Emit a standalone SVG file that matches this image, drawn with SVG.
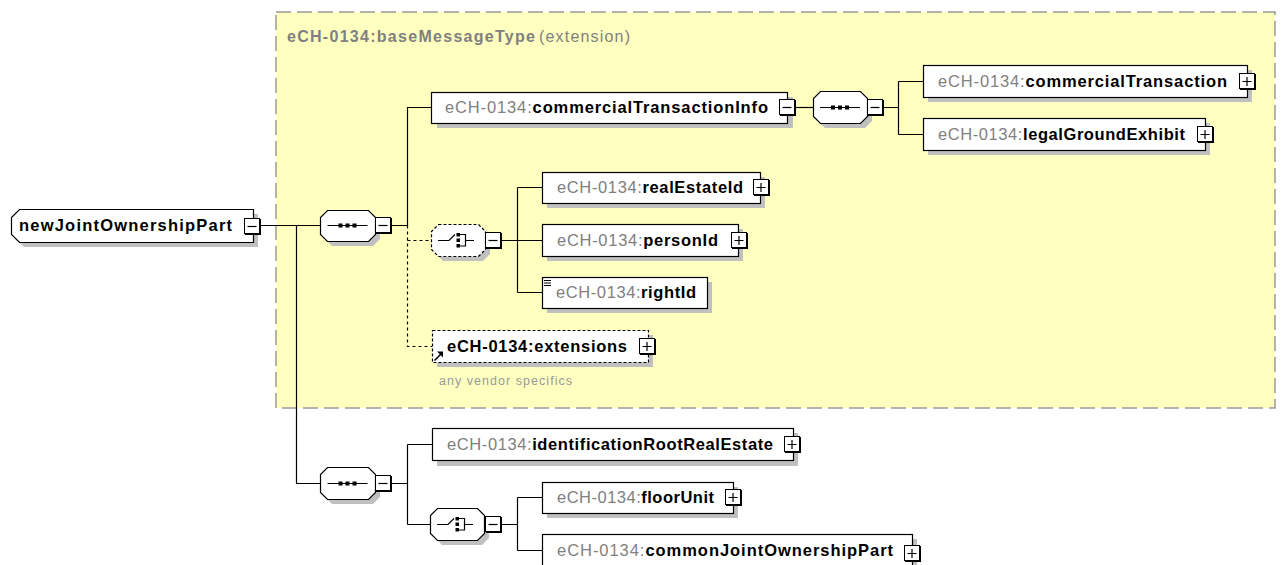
<svg xmlns="http://www.w3.org/2000/svg" xmlns:xlink="http://www.w3.org/1999/xlink" width="1281" height="565" viewBox="0 0 1281 565">
<style>
.box{fill:#fff;stroke:#000;stroke-width:1.2}
.dbox{fill:#fff;stroke:#000;stroke-width:1.2;stroke-dasharray:3 2}
.sh{fill:#c0c0c0}
.lbl{font-family:"Liberation Sans",Arial,sans-serif;font-size:16.5px;font-weight:bold;fill:#000}
.pre{font-weight:normal;fill:#808080}
.ln{fill:none;stroke:#000;stroke-width:1.2}
.dl{fill:none;stroke:#000;stroke-width:1.2;stroke-dasharray:3 3}
.ttl{font-family:"Liberation Sans",Arial,sans-serif;font-size:16px;fill:#808080}
.note{font-family:"Liberation Sans",Arial,sans-serif;font-size:12.5px;fill:#999}
</style>
<defs>
<g id="bm"><rect x="1" y="1" width="16" height="16" fill="#000"/><rect x="0.5" y="0.5" width="15" height="15" fill="#fff" stroke="#000"/><path d="M3.5 8.5H12.5" stroke="#000" stroke-width="1.2"/></g>
<g id="bp"><rect x="1" y="1" width="16" height="16" fill="#000"/><rect x="0.5" y="0.5" width="15" height="15" fill="#fff" stroke="#000"/><path d="M3.5 8.5H12.5M8 4V13" stroke="#000" stroke-width="1.2"/></g>
<g id="seqicon"><path d="M-20 0.5H20" stroke="#000" stroke-width="1.2"/><rect x="-9" y="-1.5" width="4" height="4" fill="#000"/><rect x="-2" y="-1.5" width="4" height="4" fill="#000"/><rect x="5" y="-1.5" width="4" height="4" fill="#000"/></g>
<g id="choiceicon"><path d="M-20 0.5H-9L-3 -5.5" fill="none" stroke="#000" stroke-width="1.2"/><rect x="-1.5" y="-7" width="3.5" height="3.5" fill="#000"/><rect x="-1.5" y="-1.5" width="3.5" height="3.5" fill="#000"/><rect x="-1.5" y="4" width="3.5" height="3.5" fill="#000"/><path d="M2 -5.5H7.5V6H2M7.5 0.5H16" fill="none" stroke="#000" stroke-width="1.2"/></g>
</defs>

<g id="extensionBase">
<rect x="276" y="12" width="999" height="396" fill="#ffffc0" stroke="#9a9a9a" stroke-width="1.5" stroke-dasharray="15 6"/>
<text class="ttl" x="287" y="42" font-weight="bold" textLength="248" lengthAdjust="spacing">eCH-0134:baseMessageType</text>
<text class="ttl" x="539" y="42" textLength="91" lengthAdjust="spacing">(extension)</text>
</g>

<g id="connectors">
<path class="ln" d="M260 225.5H320M296.5 225.5V483.5H320"/>
<path class="ln" d="M392 225.5H407.5V107.5H432"/>
<path class="dl" d="M407.5 225.5V346.5H432M407.5 240.5H431"/>
<path class="ln" d="M796 107.5H813"/>
<path class="ln" d="M884 107.5H898.5M898.5 81.5V134.5M898.5 81.5H923M898.5 134.5H923"/>
<path class="ln" d="M502 240.5H517.5M517.5 187.5V292.5M517.5 187.5H542M517.5 240.5H542M517.5 292.5H542"/>
<path class="ln" d="M392 483.5H407.5M407.5 444.5V524.5M407.5 444.5H432M407.5 524.5H430"/>
<path class="ln" d="M502 524.5H517.5M517.5 497.5V550.5M517.5 497.5H542M517.5 550.5H542"/>
</g>

<g id="newJointOwnershipPart">
<polygon class="sh" points="24,214 258,214 258,247 24,247 16,239 16,222"/>
<polygon class="box" points="19.5,209.5 253.5,209.5 253.5,242.5 19.5,242.5 11.5,234.5 11.5,217.5"/>
<text class="lbl" x="19" y="231" textLength="213" lengthAdjust="spacing">newJointOwnershipPart</text>
<use href="#bm" x="244" y="218"/>
</g>

<g id="sequence1">
<polygon class="sh" points="332,215 373,215 380,222 380,239 373,246 332,246 325,239 325,222"/>
<polygon class="box" points="327.5,210.5 368.5,210.5 375.5,217.5 375.5,234.5 368.5,241.5 327.5,241.5 320.5,234.5 320.5,217.5"/>
<use href="#seqicon" x="347.5" y="225"/>
<use href="#bm" x="375" y="217"/>
</g>

<g id="commercialTransactionInfo">
<rect class="sh" x="437" y="97" width="356" height="31"/>
<rect class="box" x="431.5" y="92.5" width="356" height="31"/>
<text class="lbl" x="445" y="113" textLength="323" lengthAdjust="spacing"><tspan class="pre">eCH-0134:</tspan>commercialTransactionInfo</text>
<use href="#bm" x="779" y="99"/>
</g>

<g id="sequence2">
<polygon class="sh" points="825,96 865,96 872,103 872,121 865,128 825,128 818,121 818,103"/>
<polygon class="box" points="820.5,91.5 860.5,91.5 867.5,98.5 867.5,116.5 860.5,123.5 820.5,123.5 813.5,116.5 813.5,98.5"/>
<use href="#seqicon" x="840" y="107"/>
<use href="#bm" x="867" y="99"/>
</g>

<g id="commercialTransaction">
<rect class="sh" x="928" y="70" width="324" height="32"/>
<rect class="box" x="923.5" y="65.5" width="324" height="32"/>
<text class="lbl" x="938" y="87" textLength="289" lengthAdjust="spacing"><tspan class="pre">eCH-0134:</tspan>commercialTransaction</text>
<use href="#bp" x="1239" y="73"/>
</g>

<g id="legalGroundExhibit">
<rect class="sh" x="928" y="123" width="282" height="32"/>
<rect class="box" x="923.5" y="118.5" width="282" height="32"/>
<text class="lbl" x="938" y="140" textLength="247" lengthAdjust="spacing"><tspan class="pre">eCH-0134:</tspan>legalGroundExhibit</text>
<use href="#bp" x="1197" y="126"/>
</g>

<g id="choice1">
<polygon class="sh" points="443,229 483,229 490,236 490,254 483,261 443,261 436,254 436,236"/>
<polygon class="dbox" points="438.5,224.5 478.5,224.5 485.5,231.5 485.5,249.5 478.5,256.5 438.5,256.5 431.5,249.5 431.5,231.5"/>
<use href="#choiceicon" x="458" y="240"/>
<use href="#bm" x="485" y="232"/>
</g>

<g id="realEstateId">
<rect class="sh" x="547" y="177" width="218" height="31"/>
<rect class="box" x="542.5" y="172.5" width="218" height="31"/>
<text class="lbl" x="557" y="193" textLength="186" lengthAdjust="spacing"><tspan class="pre">eCH-0134:</tspan>realEstateId</text>
<use href="#bp" x="753" y="179"/>
</g>

<g id="personId">
<rect class="sh" x="547" y="229" width="196" height="32"/>
<rect class="box" x="542.5" y="224.5" width="196" height="32"/>
<text class="lbl" x="557" y="246" textLength="161" lengthAdjust="spacing"><tspan class="pre">eCH-0134:</tspan>personId</text>
<use href="#bp" x="731" y="232"/>
</g>

<g id="rightId">
<rect class="sh" x="547" y="282" width="165" height="31"/>
<rect class="box" x="542.5" y="277.5" width="165" height="31"/>
<path d="M544 280.5H551M544 283H551M544 285.5H551" stroke="#000" stroke-width="1"/>
<text class="lbl" x="556" y="298" textLength="140" lengthAdjust="spacing"><tspan class="pre">eCH-0134:</tspan>rightId</text>
</g>

<g id="extensions">
<rect class="sh" x="437" y="335" width="216" height="32"/>
<rect class="dbox" x="432.5" y="330.5" width="216" height="32"/>
<path d="M434.5 360.5L441 354" stroke="#000" stroke-width="1.6"/>
<polygon points="437,351.5 443,351.5 443,357.5" fill="#000"/>
<text class="lbl" x="447" y="352" textLength="180" lengthAdjust="spacing">eCH-0134:extensions</text>
<use href="#bp" x="639" y="338"/>
<text class="note" x="439" y="385" textLength="133" lengthAdjust="spacing">any vendor specifics</text>
</g>

<g id="sequence3">
<polygon class="sh" points="332,472 373,472 380,479 380,497 373,504 332,504 325,497 325,479"/>
<polygon class="box" points="327.5,467.5 368.5,467.5 375.5,474.5 375.5,492.5 368.5,499.5 327.5,499.5 320.5,492.5 320.5,474.5"/>
<use href="#seqicon" x="347.5" y="483"/>
<use href="#bm" x="375" y="475"/>
</g>

<g id="identificationRootRealEstate">
<rect class="sh" x="437" y="433" width="361" height="33"/>
<rect class="box" x="432.5" y="428.5" width="361" height="32"/>
<text class="lbl" x="447" y="450" textLength="326" lengthAdjust="spacing"><tspan class="pre">eCH-0134:</tspan>identificationRootRealEstate</text>
<use href="#bp" x="784" y="436"/>
</g>

<g id="choice2">
<polygon class="sh" points="442,513 482,513 489,520 489,538 482,545 442,545 435,538 435,520"/>
<polygon class="box" points="437.5,508.5 477.5,508.5 484.5,515.5 484.5,533.5 477.5,540.5 437.5,540.5 430.5,533.5 430.5,515.5"/>
<use href="#choiceicon" x="457" y="524"/>
<use href="#bm" x="485" y="516"/>
</g>

<g id="floorUnit">
<rect class="sh" x="547" y="487" width="191" height="31"/>
<rect class="box" x="542.5" y="482.5" width="191" height="31"/>
<text class="lbl" x="557" y="503" textLength="157" lengthAdjust="spacing"><tspan class="pre">eCH-0134:</tspan>floorUnit</text>
<use href="#bp" x="725" y="489"/>
</g>

<g id="commonJointOwnershipPart">
<rect class="sh" x="547" y="539" width="370" height="32"/>
<rect class="box" x="542.5" y="534.5" width="370" height="32"/>
<text class="lbl" x="557" y="556" textLength="336" lengthAdjust="spacing"><tspan class="pre">eCH-0134:</tspan>commonJointOwnershipPart</text>
<use href="#bp" x="904" y="545"/>
</g>
</svg>
